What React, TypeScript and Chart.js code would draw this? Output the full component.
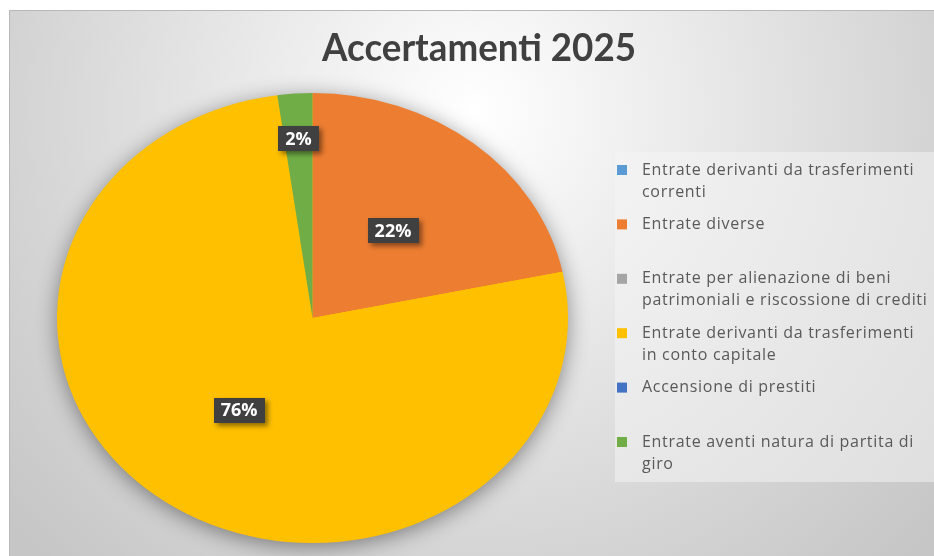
import React, { useEffect, useRef } from "react";
import { Chart, registerables } from "chart.js";

Chart.register(...registerables);

const titleText = "Accertamenti 2025";
const categories: string[][] = [
  ["Entrate derivanti da trasferimenti", "correnti"],
  ["Entrate diverse"],
  ["Entrate per alienazione di beni", "patrimoniali e riscossione di crediti"],
  ["Entrate derivanti da trasferimenti", "in conto capitale"],
  ["Accensione di prestiti"],
  ["Entrate aventi natura di partita di", "giro"],
];
const values = [0, 21.7, 0, 76.1, 0, 2.2];
const colors = ["#5B9BD5", "#ED7D31", "#A5A5A5", "#FFC000", "#4472C4", "#70AD47"];

const W = 934;
const H = 556;
const SX = 255.5 / 225; // horizontal stretch of the pie (ellipse)

const decorPlugin = {
  id: "decor",
  beforeDraw(chart: any) {
    const ctx = chart.ctx;
    ctx.save();
    ctx.fillStyle = "#ffffff";
    ctx.fillRect(0, 0, W, H);
    const g = ctx.createRadialGradient(475, 110, 0, 475, 110, 620);
    g.addColorStop(0, "#ffffff");
    g.addColorStop(0.25, "#f0f0f0");
    g.addColorStop(0.7, "#d6d6d6");
    g.addColorStop(1, "#c6c6c6");
    ctx.fillStyle = g;
    ctx.fillRect(9, 10, W - 9, H - 10);
    ctx.strokeStyle = "#b8b8b8";
    ctx.lineWidth = 1;
    ctx.beginPath();
    ctx.moveTo(9.5, H);
    ctx.lineTo(9.5, 10.5);
    ctx.lineTo(W, 10.5);
    ctx.stroke();
    // title
    ctx.fillStyle = "#404040";
    ctx.font = "bold 38px Lato";
    ctx.textAlign = "center";
    ctx.textBaseline = "alphabetic";
    ctx.fillText(titleText, 479, 61, 314);
    // legend box
    ctx.fillStyle = "rgba(245,245,245,0.5)";
    ctx.fillRect(615, 152, W - 615, 330);
    // legend items
    const slotTop = 160;
    const slot = 54.4;
    ctx.font = "16px 'Open Sans'";
    (ctx as any).letterSpacing = "0.7px";
    ctx.textAlign = "left";
    ctx.textBaseline = "middle";
    categories.forEach((lines, i) => {
      const y0 = slotTop + i * slot + 10;
      ctx.fillStyle = colors[i];
      ctx.fillRect(617, y0 - 5, 10, 10);
      ctx.fillStyle = "#595959";
      lines.forEach((ln, j) => {
        ctx.fillText(ln, 642, y0 + j * 22);
      });
    });
    (ctx as any).letterSpacing = "0px";
    ctx.restore();
  },
  beforeDatasetsDraw(chart: any) {
    const ctx = chart.ctx;
    const meta = chart.getDatasetMeta(0);
    const a = meta.data[0];
    const cx = a.x;
    const cy = a.y;
    const r = a.outerRadius;
    ctx.save();
    ctx.translate(cx, cy);
    ctx.scale(SX, 1);
    ctx.translate(-cx, -cy);
    ctx.save();
    ctx.shadowColor = "rgba(0,0,0,0.45)";
    ctx.shadowBlur = 22;
    ctx.shadowOffsetY = 4;
    ctx.fillStyle = "#FFC000";
    ctx.beginPath();
    ctx.arc(cx, cy, r - 1, 0, Math.PI * 2);
    ctx.fill();
    ctx.restore();
  },
  afterDatasetsDraw(chart: any) {
    const ctx = chart.ctx;
    ctx.restore();
    const meta = chart.getDatasetMeta(0);
    const total = values.reduce((s, v) => s + v, 0);
    ctx.save();
    ctx.font = "bold 18px 'Open Sans'";
    ctx.textAlign = "center";
    ctx.textBaseline = "middle";
    meta.data.forEach((arc: any, i: number) => {
      const v = values[i];
      if (!v) return;
      const share = v / total;
      const mid = (arc.startAngle + arc.endAngle) / 2;
      const f = share < 0.05 ? 0.8 : 0.5;
      const px = arc.x + Math.cos(mid) * arc.outerRadius * f * SX;
      const py = arc.y + Math.sin(mid) * arc.outerRadius * f;
      const txt = Math.round(share * 100) + "%";
      const tw = ctx.measureText(txt).width;
      const bw = tw + 14;
      const bh = 25;
      ctx.save();
      ctx.shadowColor = "rgba(0,0,0,0.45)";
      ctx.shadowBlur = 5;
      ctx.shadowOffsetX = 3;
      ctx.shadowOffsetY = 3;
      ctx.fillStyle = "#404040";
      ctx.fillRect(Math.round(px - bw / 2), Math.round(py - bh / 2), Math.round(bw), bh);
      ctx.restore();
      ctx.fillStyle = "#ffffff";
      ctx.fillText(txt, px, py + 1);
    });
    ctx.restore();
  },
};

export default function App() {
  const ref = useRef<HTMLCanvasElement | null>(null);
  useEffect(() => {
    if (!ref.current) return;
    const cx = 312.5;
    const cy = 318;
    const r = 225;
    const chart = new Chart(ref.current, {
      type: "pie",
      data: {
        labels: categories.map((l) => l.join(" ")),
        datasets: [
          {
            data: values,
            backgroundColor: colors,
            borderWidth: 0,
          },
        ],
      },
      options: {
        responsive: false,
        animation: false,
        devicePixelRatio: 1,
        layout: {
          padding: {
            top: cy - r,
            bottom: H - (cy + r),
            left: cx - r,
            right: W - (cx + r),
          },
        },
        plugins: {
          legend: { display: false },
          tooltip: { enabled: false },
          title: { display: false },
        },
      },
      plugins: [decorPlugin],
    });
    return () => chart.destroy();
  }, []);
  return (
    <div style={{ position: "fixed", left: 0, top: 0, width: W, height: H }}>
      <canvas ref={ref} width={W} height={H} style={{ display: "block" }} />
    </div>
  );
}
